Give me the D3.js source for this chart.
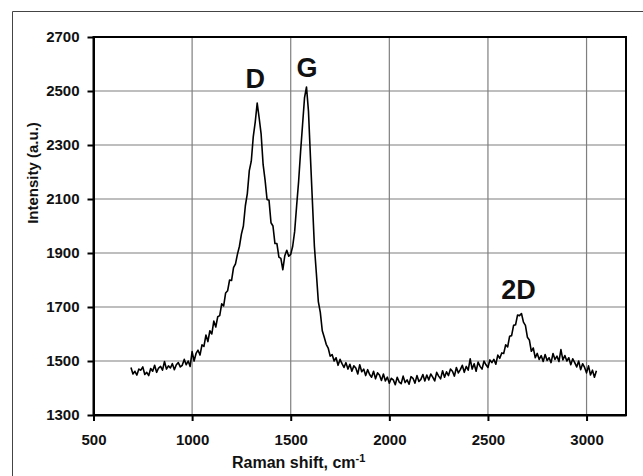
<!DOCTYPE html>
<html>
<head>
<meta charset="utf-8">
<script src="https://cdn.jsdelivr.net/npm/d3@7"></script>
<style>
  body { margin: 0; background: #fff; }
  svg { display: block; font-family: "Liberation Sans", Arial, sans-serif; }
  .axis text { font-size: 15px; font-weight: bold; fill: #111; }
  .axis path, .axis line { stroke: #000; stroke-width: 2; }
  .grid line { stroke: #7f7f7f; stroke-width: 1.2; }
</style>
</head>
<body>
<svg width="643" height="476"></svg>
<script>
/*
  Raman spectrum with D, G and 2D bands
*/

// x axis ticks and y axis ticks
var shiftTicks = [500, 1000, 1500, 2000, 2500, 3000];
var intensityTicks = [1300, 1500, 1700, 1900, 2100, 2300, 2500, 2700];

// spectrum sampled every 10 cm-1 from 690 to 3050
var shiftStart = 690, shiftStep = 10;
var intensity = [
  1476, 1452, 1462, 1448, 1470, 1466, 1478, 1450, 1458, 1446,
  1472, 1462, 1484, 1458, 1474, 1480, 1466, 1498, 1470, 1482,
  1474, 1490, 1468, 1486, 1494, 1478, 1484, 1506, 1486, 1500,
  1480, 1535, 1500, 1528, 1540, 1522, 1560, 1554, 1596, 1572,
  1612, 1600, 1648, 1626, 1664, 1668, 1712, 1704, 1752, 1760,
  1800, 1798, 1846, 1860, 1896, 1925, 1970, 2000, 2075, 2120,
  2205, 2240, 2330, 2385, 2455, 2400, 2340, 2228, 2170, 2098,
  2095, 2012, 2000, 1935, 1935, 1885, 1880, 1838, 1890, 1910,
  1888, 1895, 1925, 1980, 2075, 2165, 2275, 2375, 2475, 2515,
  2425, 2255, 2090, 1925, 1825, 1720, 1680, 1612, 1588, 1562,
  1548, 1518, 1524, 1500, 1512, 1484, 1506, 1490, 1476, 1494,
  1470, 1488, 1462, 1482, 1474, 1452, 1486, 1460, 1470, 1446,
  1468, 1450, 1440, 1462, 1434, 1456, 1448, 1428, 1452, 1426,
  1440, 1418, 1436, 1430, 1412, 1440, 1422, 1416, 1444, 1420,
  1430, 1414, 1442, 1436, 1418, 1446, 1424, 1432, 1450, 1426,
  1448, 1430, 1452, 1440, 1426, 1458, 1444, 1434, 1464, 1440,
  1460, 1446, 1470, 1462, 1444, 1476, 1456, 1468, 1484, 1458,
  1480, 1466, 1508, 1470, 1490, 1462, 1496, 1480, 1470, 1500,
  1486, 1476, 1504, 1494, 1506, 1488, 1522, 1510, 1530, 1528,
  1560, 1552, 1592, 1594, 1632, 1634, 1670, 1668, 1676, 1644,
  1632, 1588, 1578, 1536, 1548, 1512, 1528, 1506, 1520, 1498,
  1524, 1502, 1512, 1494, 1528, 1506, 1518, 1498, 1542, 1504,
  1520, 1500, 1512, 1486, 1508, 1494, 1478, 1500, 1468, 1490,
  1476, 1456, 1482, 1448, 1466, 1440, 1464
];

// peak names and where they sit (data units)
var peakNames = ["D", "G", "2D"];
var peakShift = [1320, 1582, 2655];
var peakLabelY = [2511, 2552, 1730];

var svg = d3.select("svg"),
    margin = {top: 37, right: 17, bottom: 61, left: 93.5},
    width = +svg.attr("width") - margin.left - margin.right,
    height = +svg.attr("height") - margin.top - margin.bottom;

// outer picture frame (left and top only, the rest is cut off)
svg.append("path")
  .attr("d", "M12.5,476V11.5H643")
  .attr("fill", "none")
  .attr("stroke", "#444")
  .attr("stroke-width", 1);

var g = svg.append("g").attr("transform", "translate(" + margin.left + "," + margin.top + ")");

var x = d3.scaleLinear().domain([500, 3200]).range([0, width]),
    y = d3.scaleLinear().domain([1300, 2700]).range([height, 0]);

// grid
g.append("g").attr("class", "grid")
  .selectAll("line")
  .data(shiftTicks.slice(1))
  .enter().append("line")
  .attr("x1", function(d) { return x(d); })
  .attr("x2", function(d) { return x(d); })
  .attr("y1", 0)
  .attr("y2", height);
g.append("g").attr("class", "grid")
  .selectAll("line")
  .data(intensityTicks.slice(1, -1))
  .enter().append("line")
  .attr("x1", 0)
  .attr("x2", width)
  .attr("y1", function(d) { return y(d); })
  .attr("y2", function(d) { return y(d); });

// plot border
g.append("rect")
  .attr("width", width)
  .attr("height", height)
  .attr("fill", "none")
  .attr("stroke", "#000")
  .attr("stroke-width", 2);

// axes
g.append("g")
  .attr("class", "axis axis--x")
  .attr("transform", "translate(0," + height + ")")
  .call(d3.axisBottom(x).tickValues(shiftTicks).tickFormat(d3.format("d"))
    .tickSize(6).tickSizeOuter(0).tickPadding(13));
g.append("g")
  .attr("class", "axis axis--y")
  .call(d3.axisLeft(y).tickValues(intensityTicks).tickFormat(d3.format("d"))
    .tickSize(6).tickSizeOuter(0).tickPadding(8));

// spectrum
var spectrum = intensity.map(function(v, i) {
  return {shift: shiftStart + i * shiftStep, value: v};
});
var line = d3.line()
  .x(function(d) { return x(d.shift); })
  .y(function(d) { return y(d.value); });
g.append("path")
  .datum(spectrum)
  .attr("fill", "none")
  .attr("stroke", "#000")
  .attr("stroke-width", 1.6)
  .attr("stroke-linejoin", "round")
  .attr("d", line);

// peak labels
g.selectAll(".peak")
  .data(peakNames)
  .enter().append("text")
  .attr("class", "peak")
  .attr("x", function(d, i) { return x(peakShift[i]); })
  .attr("y", function(d, i) { return y(peakLabelY[i]); })
  .attr("text-anchor", "middle")
  .style("font-size", "27px")
  .style("font-weight", "bold")
  .style("fill", "#111")
  .text(function(d) { return d; });

// axis titles
var xt = svg.append("text")
  .attr("x", 232)
  .attr("y", 468)
  .style("font-size", "16px")
  .style("font-weight", "bold")
  .style("fill", "#111")
  .text("Raman shift, cm");
xt.append("tspan")
  .attr("dy", -6)
  .style("font-size", "11px")
  .text("-1");

svg.append("text")
  .attr("transform", "translate(38,173) rotate(-90)")
  .attr("text-anchor", "middle")
  .style("font-size", "15px")
  .style("font-weight", "bold")
  .style("fill", "#111")
  .text("Intensity (a.u.)");
</script>
</body>
</html>
